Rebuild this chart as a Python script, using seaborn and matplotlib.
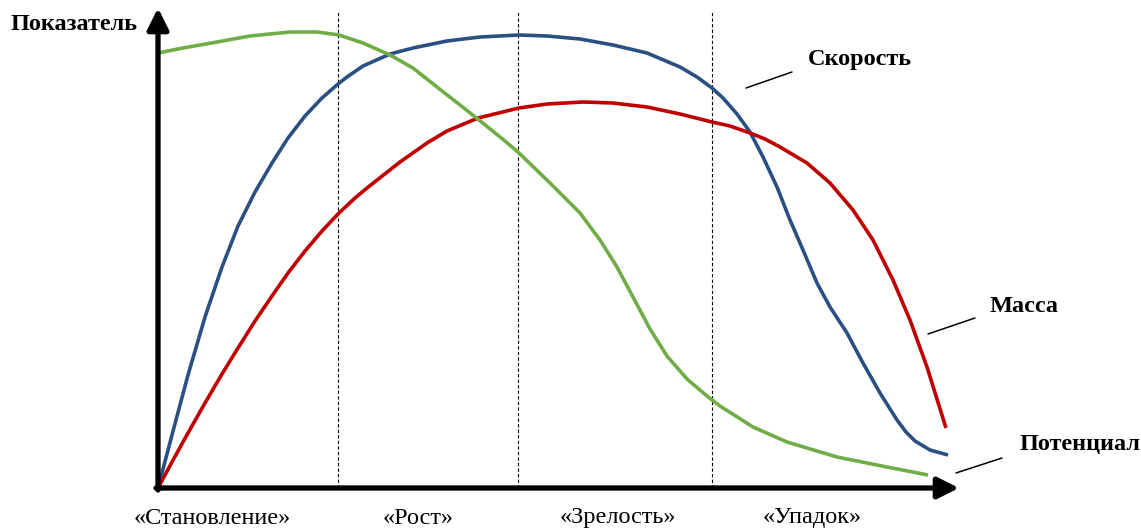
import numpy as np
import pandas as pd
import matplotlib
matplotlib.use('Agg')
import matplotlib.pyplot as plt
import seaborn as sns

# Values in chart units: origin of the axes = (0, 0), x grows right, y grows up
speed_x = [0, 14, 30, 47, 64, 80, 97, 114, 130, 147, 164, 180, 189, 205, 232,
           255, 289, 322, 361, 389, 422, 455, 489, 522, 539, 554, 565, 579, 592,
           605, 619, 632, 645, 659, 672, 689, 705, 722, 739, 748, 757, 772, 790]
speed_y = [0, 53, 113, 171, 221, 262, 296, 325, 350, 372, 390, 404, 411, 422, 434,
           440, 447, 451, 453, 452, 449, 443, 435, 421, 411, 400, 390, 374, 356,
           331, 301, 268, 238, 205, 181, 155, 125, 95, 68, 56, 47, 38, 33]

mass_x = [0, 14, 30, 47, 64, 80, 97, 114, 130, 147, 164, 180, 197, 209, 242,
          269, 289, 320, 361, 389, 425, 455, 489, 522, 554, 572, 592, 607, 622,
          649, 672, 695, 715, 735, 752, 769, 788]
mass_y = [0, 26, 55, 85, 114, 140, 167, 192, 215, 237, 257, 274, 290, 300, 326,
          345, 357, 370, 380, 384, 386, 385, 381, 374, 366, 362, 355, 349, 341,
          325, 305, 278, 248, 208, 168, 121, 60]

potential_x = [0, 25, 59, 92, 132, 159, 181, 205, 232, 255, 279, 302, 321, 347,
               361, 392, 422, 442, 459, 475, 492, 509, 529, 549, 562, 595, 629,
               679, 729, 770]
potential_y = [435, 440, 446, 452, 456, 456, 453, 445, 433, 420, 401, 383, 368, 347,
               335, 305, 275, 248, 221, 191, 159, 132, 109, 92, 82, 61, 46,
               31, 21, 13]

series = [
    ('Скорость', speed_x, speed_y, '#2A5082'),
    ('Масса', mass_x, mass_y, '#C00000'),
    ('Потенциал', potential_x, potential_y, '#70AD47'),
]

stage_bounds = [180, 360, 554]
stage_labels = ['«Становление»', '«Рост»', '«Зрелость»', '«Упадок»']
stage_label_x = [54, 260, 460, 654]

callouts = [
    # text, text position, leader line start, leader line end
    ('Скорость', (650, 428), (588, 400), (634, 416)),
    ('Масса', (832, 182), (770, 154), (817, 170)),
    ('Потенциал', (862, 43), (798, 15), (844, 30)),
]

sns.set_theme(style='white')
plt.rcParams['font.family'] = ['Liberation Serif', 'DejaVu Serif']

fig = plt.figure(figsize=(11.41, 5.30), dpi=100)
ax = fig.add_axes([0, 0, 1, 1])
ax.set_xlim(-158, 983)
ax.set_ylim(-42, 488)
ax.axis('off')

# stage separators
for xb in stage_bounds:
    ax.plot([xb, xb], [0, 477], color='black', lw=0.8, ls=(0, (3, 2)), zorder=1)

# curves
for name, xs, ys, col in series:
    df = pd.DataFrame({'x': xs, 'y': ys})
    sns.lineplot(data=df, x='x', y='y', sort=False, color=col, linewidth=2.6,
                 ax=ax, legend=False, zorder=3, solid_capstyle='butt',
                 solid_joinstyle='round')
ax.set_xlabel('')
ax.set_ylabel('')

# axes with arrows
arrow = dict(arrowstyle='-|>,head_length=0.8,head_width=0.4', lw=3.8,
             color='black', shrinkA=0, shrinkB=0, mutation_scale=16)
ax.annotate('', xy=(801, 0), xytext=(-2, 0), arrowprops=arrow, zorder=4)
ax.annotate('', xy=(0, 480), xytext=(0, -2), arrowprops=arrow, zorder=4)

ax.text(-20, 464, 'Показатель', ha='right', va='center', fontsize=17.5,
        fontweight='bold', color='black')

for lx, lab in zip(stage_label_x, stage_labels):
    ax.text(lx, -30, lab, ha='center', va='center', fontsize=17.5, color='black')

for txt, pos, p0, p1 in callouts:
    ax.plot([p0[0], p1[0]], [p0[1], p1[1]], color='black', lw=1.1)
    ax.text(pos[0], pos[1], txt, ha='left', va='center', fontsize=17.5,
            fontweight='bold', color='black')

fig.savefig('out.png', dpi=100, facecolor='white')
